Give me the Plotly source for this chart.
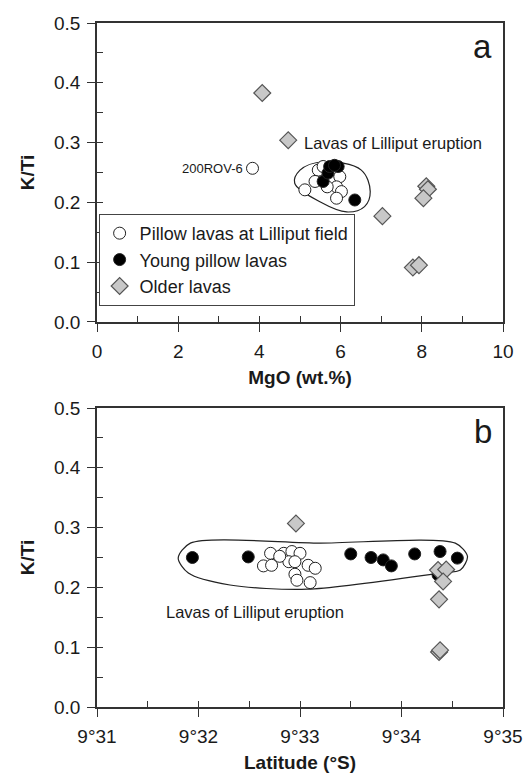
import plotly.graph_objects as go

# ---------------- data ----------------
# Panel a: MgO (wt.%) vs K/Ti
pillow_mgo = [3.83, 5.12, 5.45, 5.37, 5.86, 5.98, 5.90, 6.02, 5.90, 5.67, 5.57]
pillow_kti = [0.257, 0.221, 0.254, 0.235, 0.254, 0.243, 0.226, 0.218, 0.207, 0.226, 0.260]
young_mgo = [5.57, 5.69, 5.73, 5.94, 6.35, 5.85]
young_kti = [0.235, 0.249, 0.260, 0.260, 0.204, 0.262]
older_mgo = [4.07, 4.71, 8.11, 8.15, 8.04, 7.03, 7.78, 7.93]
older_kti = [0.383, 0.304, 0.227, 0.222, 0.207, 0.177, 0.091, 0.095]

# Panel b: latitude (minutes past 9°S) vs K/Ti
pillow_lat = [32.71, 32.64, 32.72, 32.84, 32.92, 33.00, 32.89, 32.95, 33.08, 33.15, 32.95, 32.97, 33.10, 32.80]
pillow_lat_kti = [0.257, 0.236, 0.237, 0.257, 0.260, 0.257, 0.243, 0.243, 0.237, 0.232, 0.222, 0.212, 0.208, 0.252]
young_lat = [31.94, 32.49, 33.50, 33.70, 33.82, 33.90, 34.13, 34.38, 34.55, 34.36]
young_lat_kti = [0.250, 0.251, 0.256, 0.250, 0.246, 0.236, 0.256, 0.260, 0.249, 0.221]
older_lat = [32.96, 34.36, 34.44, 34.41, 34.37, 34.37, 34.38]
older_lat_kti = [0.307, 0.229, 0.230, 0.210, 0.180, 0.092, 0.095]

# outlines of "Lavas of Lilliput eruption" groups
outline_a_x = [5.00, 5.56, 6.51, 6.73, 6.59, 6.15, 5.49, 4.87, 5.00]
outline_a_y = [0.254, 0.268, 0.254, 0.218, 0.193, 0.184, 0.201, 0.232, 0.254]
outline_b_x = [31.92, 33.2, 34.53, 34.65, 34.58, 34.38, 33.07, 32.31, 31.90, 31.80, 31.92]
outline_b_y = [0.274, 0.274, 0.274, 0.252, 0.229, 0.224, 0.197, 0.204, 0.224, 0.249, 0.274]

mgo_ticks = [0, 2, 4, 6, 8, 10]
mgo_minor = [1, 3, 5, 7, 9]
lat_ticks = [31, 32, 33, 34, 35]
lat_minor = [31.5, 32.5, 33.5, 34.5]
lat_ticktext = ["9°31", "9°32", "9°33", "9°34", "9°35"]
kti_ticks = [0.0, 0.1, 0.2, 0.3, 0.4, 0.5]
kti_minor = [0.05, 0.15, 0.25, 0.35, 0.45]

FONT = "Liberation Sans, Arial, sans-serif"
AX = "#333333"
TXT = "#1a1a1a"

open_marker = dict(symbol="circle", size=12, color="white", line=dict(color="#222", width=1))
black_marker = dict(symbol="circle", size=12, color="black", line=dict(color="#222", width=1))
dia_marker = dict(symbol="diamond", size=13, color="#c8c8c8", line=dict(color="#555", width=1.2))

fig = go.Figure()

# outlines
fig.add_trace(go.Scatter(x=outline_a_x, y=outline_a_y, mode="lines",
                         line=dict(color="#222", width=1.2, shape="spline", smoothing=1.0),
                         xaxis="x", yaxis="y", showlegend=False, hoverinfo="skip"))
fig.add_trace(go.Scatter(x=outline_b_x, y=outline_b_y, mode="lines",
                         line=dict(color="#222", width=1.2, shape="spline", smoothing=0.8),
                         xaxis="x2", yaxis="y2", showlegend=False, hoverinfo="skip"))

# panel a
fig.add_trace(go.Scatter(x=older_mgo, y=older_kti, mode="markers", marker=dia_marker, name="Older lavas",
                         xaxis="x", yaxis="y", legendrank=3))
fig.add_trace(go.Scatter(x=pillow_mgo, y=pillow_kti, mode="markers", marker=open_marker,
                         name="Pillow lavas at Lilliput field", xaxis="x", yaxis="y", legendrank=1))
fig.add_trace(go.Scatter(x=young_mgo, y=young_kti, mode="markers", marker=black_marker,
                         name="Young pillow lavas", xaxis="x", yaxis="y", legendrank=2))

# panel b
fig.add_trace(go.Scatter(x=pillow_lat, y=pillow_lat_kti, mode="markers", marker=open_marker, showlegend=False,
                         xaxis="x2", yaxis="y2"))
fig.add_trace(go.Scatter(x=young_lat, y=young_lat_kti, mode="markers", marker=black_marker, showlegend=False,
                         xaxis="x2", yaxis="y2"))
fig.add_trace(go.Scatter(x=older_lat, y=older_lat_kti, mode="markers", marker=dia_marker, showlegend=False,
                         xaxis="x2", yaxis="y2"))

ya_dom = [0.5629, 1.0]
yb_dom = [0.0, 0.4371]

TICKF = dict(family=FONT, size=19, color=TXT)
title_font = dict(family=FONT, size=19, color=TXT)

def minor(vals):
    return dict(tickvals=vals, ticks="inside", ticklen=6, tickcolor=AX, tickwidth=1.2)

def base_axis(**kw):
    d = dict(showline=True, linecolor=AX, linewidth=1.5, mirror=True, ticks="outside", ticklen=8,
             tickwidth=1.3, tickcolor=AX, showgrid=False, zeroline=False, automargin=False,
             tickfont=TICKF, ticklabelstandoff=3)
    d.update(kw)
    return d

def inner_axis(**kw):
    d = dict(showline=False, ticks="inside", ticklen=6, tickwidth=1.3, tickcolor=AX,
             showgrid=False, zeroline=False, showticklabels=False, automargin=False)
    d.update(kw)
    return d

fig.update_layout(
    width=528, height=775,
    margin=dict(l=97, r=25, t=23, b=68),
    paper_bgcolor="white", plot_bgcolor="white",
    font=dict(family=FONT, color=TXT),
    xaxis=base_axis(anchor="y", range=[0, 10], tickvals=mgo_ticks, minor=minor(mgo_minor),
                    title=dict(text="<b>MgO (wt.%)</b>", font=title_font, standoff=10)),
    yaxis=base_axis(domain=ya_dom, anchor="x", range=[0, 0.5], tickvals=kti_ticks, tickformat=".1f",
                    minor=minor(kti_minor),
                    title=dict(text="<b>K/Ti</b>", font=title_font, standoff=14)),
    xaxis2=base_axis(anchor="y2", range=[31, 35], tickvals=lat_ticks, ticktext=lat_ticktext,
                     minor=minor(lat_minor),
                     title=dict(text="<b>Latitude (°S)</b>", font=title_font, standoff=10)),
    yaxis2=base_axis(domain=yb_dom, anchor="x2", range=[0, 0.5], tickvals=kti_ticks, tickformat=".1f",
                     minor=minor(kti_minor),
                     title=dict(text="<b>K/Ti</b>", font=title_font, standoff=14)),
    # overlay axes so that major ticks cross the axis line
    xaxis3=inner_axis(overlaying="x", anchor="y", range=[0, 10], tickvals=mgo_ticks),
    yaxis3=inner_axis(overlaying="y", anchor="x", range=[0, 0.5], tickvals=kti_ticks, domain=ya_dom),
    xaxis4=inner_axis(overlaying="x2", anchor="y2", range=[31, 35], tickvals=lat_ticks),
    yaxis4=inner_axis(overlaying="y2", anchor="x2", range=[0, 0.5], tickvals=kti_ticks, domain=yb_dom),
    legend=dict(x=0.004, y=0.5863, xanchor="left", yanchor="bottom", bgcolor="white",
                bordercolor="#444", borderwidth=1, font=dict(family=FONT, size=18, color=TXT),
                traceorder="normal", tracegroupgap=0),
    showlegend=True,
    hovermode=False,
    annotations=[
        dict(text="a", x=1, y=0.92, xref="x domain", yref="y domain", xanchor="right", yanchor="middle",
             xshift=-9, showarrow=False, font=dict(family=FONT, size=33, color=TXT)),
        dict(text="b", x=1, y=0.92, xref="x2 domain", yref="y2 domain", xanchor="right", yanchor="middle",
             xshift=-9, showarrow=False, font=dict(family=FONT, size=33, color=TXT)),
        dict(text="200ROV-6", x=3.83, y=0.257, xref="x", yref="y", xanchor="right", yanchor="middle",
             xshift=-8, showarrow=False, font=dict(family=FONT, size=13, color=TXT)),
        dict(text="Lavas of Lilliput eruption", x=5.04, y=0.299, xref="x", yref="y", xanchor="left",
             yanchor="middle", showarrow=False, font=dict(family=FONT, size=16.5, color=TXT)),
        dict(text="Lavas of Lilliput eruption", x=31.66, y=0.159, xref="x2", yref="y2", xanchor="left",
             yanchor="middle", showarrow=False, font=dict(family=FONT, size=16.5, color=TXT)),
    ],
)

# empty traces so the overlay axes render
fig.add_trace(go.Scatter(x=[None], y=[None], xaxis="x3", yaxis="y3", showlegend=False, hoverinfo="skip"))
fig.add_trace(go.Scatter(x=[None], y=[None], xaxis="x4", yaxis="y4", showlegend=False, hoverinfo="skip"))

fig.write_html("out.html", config={"displayModeBar": False, "staticPlot": False},
               post_script="document.body.style.margin='0';document.body.style.overflow='hidden';")
